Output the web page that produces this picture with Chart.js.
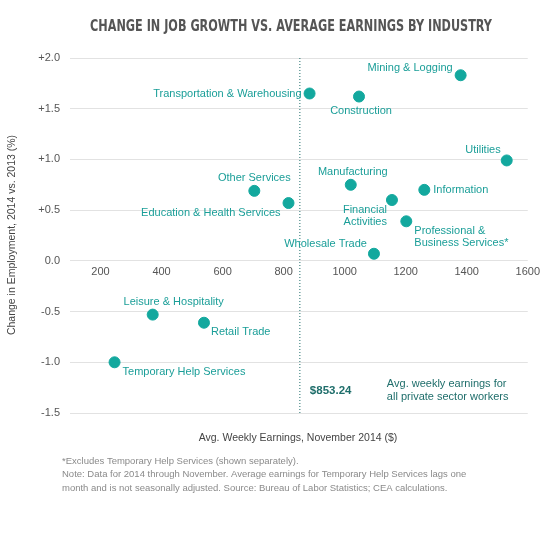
<!DOCTYPE html>
<html><head><meta charset="utf-8">
<script src="https://cdn.jsdelivr.net/npm/chart.js@4/dist/chart.umd.min.js"></script>
<style>html,body{margin:0;padding:0;background:#fff}#wrap{width:545px;height:536px;position:relative}</style>
</head><body><div id="wrap"><canvas id="c" width="545" height="536"></canvas></div>
<script>
const industries = ["Mining & Logging","Transportation & Warehousing","Construction","Utilities","Other Services","Manufacturing","Information","Financial\nActivities","Education & Health Services","Professional &\nBusiness Services*","Wholesale Trade","Leisure & Hospitality","Retail Trade","Temporary Help Services"];
const earnings = [1380,885,1047,1531,704,1020,1261,1155,816,1202,1096,371,539,246];
const employmentChange = [1.83,1.65,1.62,0.99,0.69,0.75,0.70,0.60,0.57,0.39,0.07,-0.53,-0.61,-1.00];
const avgEarnings = 853.24;
const yTicks = [-1.5,-1.0,-0.5,0,0.5,1.0,1.5,2.0];
const xTicks = [200,400,600,800,1000,1200,1400,1600];
// label placement: [align, dx, dy]
const labelPos = [["right",-8,-7],["right",-8,0],["center",2,14],["right",-6,-10],["center",0,-13],["center",2,-13],["left",9,0],["right",-5,10],["right",-8,10],["left",8,10],["right",-7,-10],["center",21,-13],["left",7,9],["left",8,10]];

const TEAL="#13a89e", LBL="#1a9e98", DARK="#1f6e6b";
const deco = {
  id:"deco",
  afterDatasetsDraw(chart){
    const ctx=chart.ctx, xs=chart.scales.x, ys=chart.scales.y;
    ctx.save();
    const ax=xs.getPixelForValue(avgEarnings);
    ctx.strokeStyle=DARK; ctx.lineWidth=1; ctx.setLineDash([1,2]);
    ctx.beginPath(); ctx.moveTo(ax,chart.chartArea.top); ctx.lineTo(ax,chart.chartArea.bottom); ctx.stroke();
    ctx.setLineDash([]);
    ctx.font='11px "Liberation Sans", Arial, sans-serif'; ctx.fillStyle=LBL; ctx.textBaseline="middle";
    industries.forEach((n,i)=>{
      const px=xs.getPixelForValue(earnings[i]), py=ys.getPixelForValue(employmentChange[i]);
      const [al,dx,dy]=labelPos[i]; ctx.textAlign=al;
      n.split("\n").forEach((l,k)=>ctx.fillText(l,px+dx,py+dy+k*12));
    });
    ctx.textAlign="left"; ctx.fillStyle=DARK;
    ctx.font='bold 11.5px "Liberation Sans", Arial, sans-serif';
    ctx.fillText("$"+avgEarnings.toFixed(2),ax+10,391);
    ctx.font='11px "Liberation Sans", Arial, sans-serif';
    ctx.fillText("Avg. weekly earnings for",ax+87,384);
    ctx.fillText("all private sector workers",ax+87,397);
    ctx.fillStyle="#555"; ctx.textAlign="center";
    ctx.font='bold 15px "Liberation Sans Narrow", "DejaVu Sans Condensed", sans-serif';
    ctx.fillText("CHANGE IN JOB GROWTH VS. AVERAGE EARNINGS BY INDUSTRY",291,27,402);
    ctx.fillStyle="#444"; ctx.font='10.5px "Liberation Sans", Arial, sans-serif';
    ctx.fillText("Avg. Weekly Earnings, November 2014 ($)",298,438);
    ctx.save(); ctx.translate(12,235); ctx.rotate(-Math.PI/2);
    ctx.fillText("Change in Employment, 2014 vs. 2013 (%)",0,0); ctx.restore();
    ctx.textAlign="left"; ctx.fillStyle="#8a8a8a"; ctx.font='9.5px "Liberation Sans", Arial, sans-serif';
    ctx.fillText("*Excludes Temporary Help Services (shown separately).",62,461);
    ctx.fillText("Note: Data for 2014 through November. Average earnings for Temporary Help Services lags one",62,474);
    ctx.fillText("month and is not seasonally adjusted. Source: Bureau of Labor Statistics; CEA calculations.",62,488);
    ctx.restore();
  }
};

new Chart(document.getElementById("c"),{
  type:"scatter",
  data:{datasets:[{data:earnings.map((x,i)=>({x,y:employmentChange[i]})),backgroundColor:TEAL,borderColor:TEAL,pointRadius:5.5,pointHoverRadius:5.5}]},
  options:{
    responsive:false,animation:false,devicePixelRatio:1,
    layout:{padding:{left:0,top:58,right:14,bottom:123}},
    plugins:{legend:{display:false},tooltip:{enabled:false}},
    scales:{
      x:{type:"linear",min:100,max:1600,position:{y:0},
         afterBuildTicks(s){s.ticks=xTicks.map(v=>({value:v}));},
         afterFit(s){s.height=20;},
         grid:{display:false,drawTicks:false},border:{display:false},
         ticks:{color:"#555",font:{size:11,family:'"Liberation Sans", Arial'},padding:5,callback:v=>String(v)}},
      y:{min:-1.5,max:2.0,
         afterBuildTicks(s){s.ticks=yTicks.map(v=>({value:v}));},
         afterFit(s){s.width=70;},
         grid:{color:"#e2e2e2",drawTicks:false},border:{display:false},
         ticks:{color:"#555",padding:10,font:{size:11,family:'"Liberation Sans", Arial'},
           callback:v=>(v>0?"+":"")+v.toFixed(1)}}
    }
  },
  plugins:[deco]
});
</script></body></html>
